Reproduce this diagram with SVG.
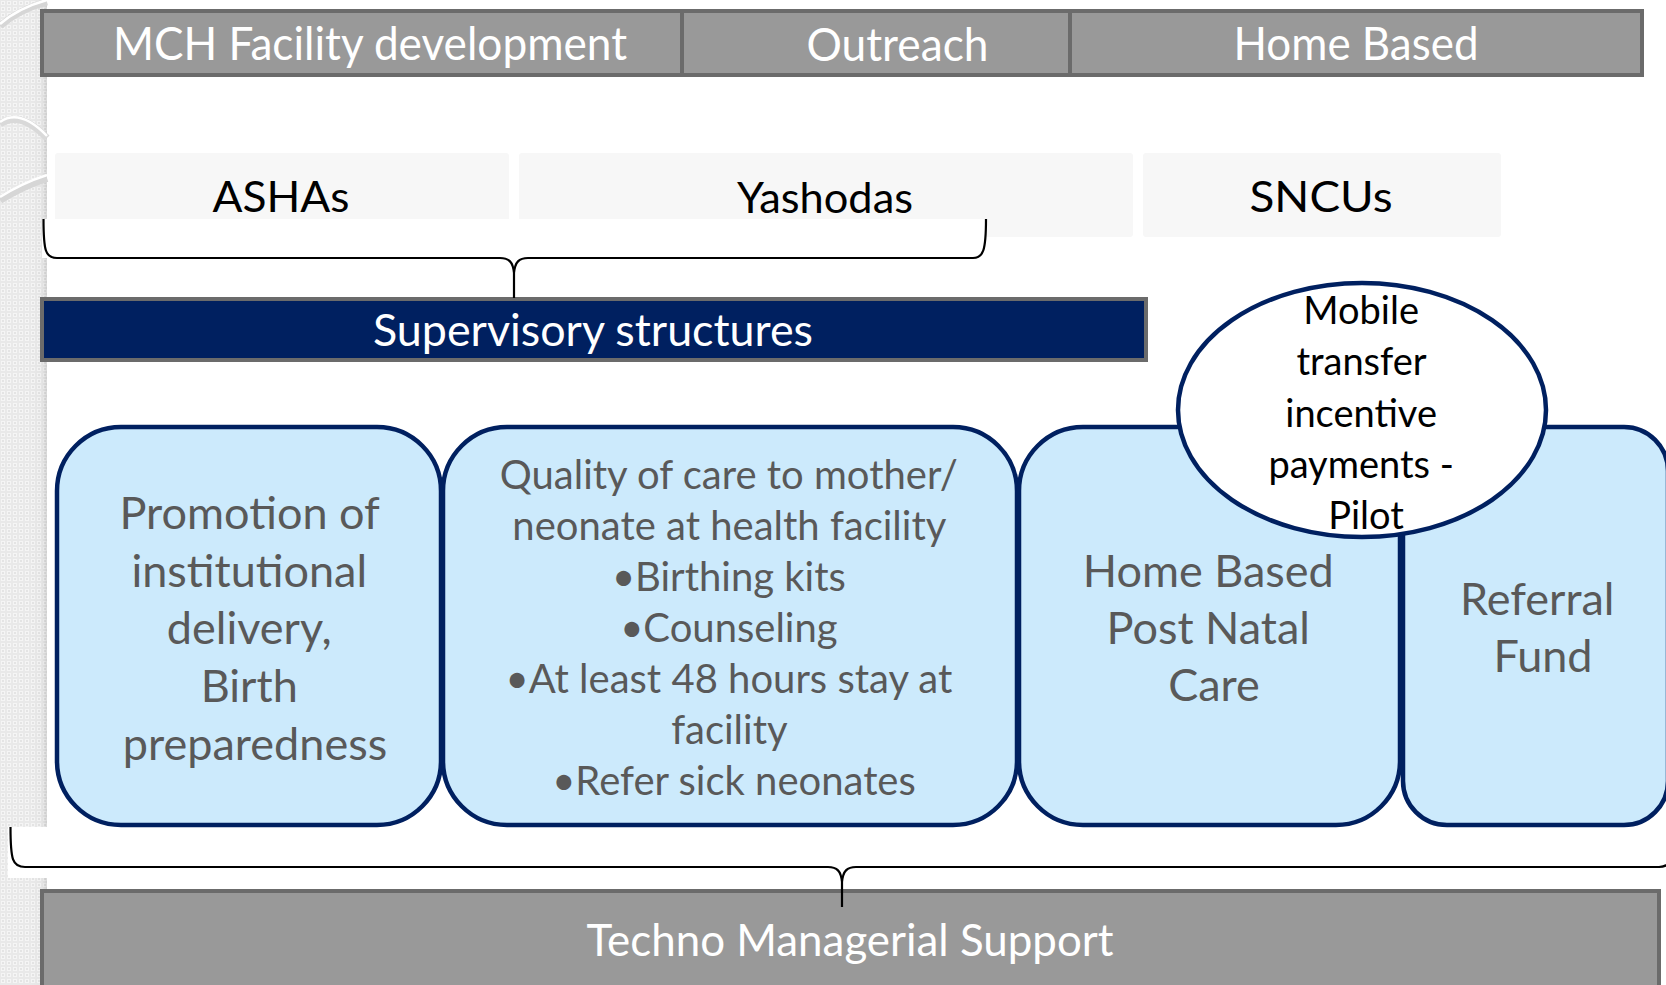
<svg xmlns="http://www.w3.org/2000/svg" width="1666" height="985" viewBox="0 0 1666 985">
  <defs>
    <pattern id="tex" width="6" height="6" patternUnits="userSpaceOnUse">
      <rect width="6" height="6" fill="#e9e9e9"/>
      <rect x="1" y="1" width="4" height="4" fill="#f5f5f5"/>
      <rect x="2" y="2" width="2" height="2" fill="#e4e4e4"/>
    </pattern>
    <linearGradient id="edge" x1="0" y1="0" x2="1" y2="0">
      <stop offset="0" stop-color="#000" stop-opacity="0"/>
      <stop offset="0.7" stop-color="#000" stop-opacity="0.02"/>
      <stop offset="1" stop-color="#000" stop-opacity="0.12"/>
    </linearGradient>
    <style>
      text { font-family: "Lato", "Liberation Sans", sans-serif; text-anchor: middle; }
      .bar { fill: #999999; stroke: #6b6b6b; stroke-width: 4; }
      .bar-label { fill: #ffffff; font-size: 46px; }
      .tier { fill: #f7f7f7; }
      .tier-label { fill: #000000; font-size: 43px; }
      .navy { fill: #002060; stroke: #6b6b6b; stroke-width: 4; }
      .card { fill: #cceafc; stroke: #002060; stroke-width: 4.5; }
      .card-label { fill: #595959; font-size: 45px; }
      .card-small { fill: #595959; font-size: 40px; }
      .bubble { fill: #ffffff; stroke: #002060; stroke-width: 4.5; }
      .bubble-label { fill: #000000; font-size: 38px; }
      .brace { fill: none; stroke: #000000; stroke-width: 2.2; stroke-linejoin: round; }
    </style>
  </defs>

  <!-- page background -->
  <rect width="1666" height="985" fill="#ffffff"/>

  <!-- textured margin strip with sweeping arcs -->
  <g id="margin">
    <rect x="0" y="0" width="47" height="985" fill="url(#tex)"/>
    <rect x="30" y="0" width="17" height="985" fill="url(#edge)"/>
    <path d="M0,26 Q18,10 47,2" fill="none" stroke="#d6d6d6" stroke-width="7"/>
    <path d="M0,24 Q18,8 47,0" fill="none" stroke="#ffffff" stroke-width="2.5"/>
    <path d="M0,124 Q20,110 47,138" fill="none" stroke="#d9d9d9" stroke-width="7"/>
    <path d="M0,122 Q20,108 47,136" fill="none" stroke="#ffffff" stroke-width="2.5"/>
    <path d="M0,200 Q22,186 47,178" fill="none" stroke="#d6d6d6" stroke-width="8"/>
    <path d="M0,197 Q22,183 47,175" fill="none" stroke="#ffffff" stroke-width="2.5"/>
    <rect x="8" y="827" width="40" height="51" fill="#ffffff"/>
  </g>

  <!-- top row of programme areas -->
  <g id="mch-facility">
    <rect class="bar" x="42" y="11" width="640" height="64"/>
    <text class="bar-label" x="370" y="60" textLength="514" lengthAdjust="spacingAndGlyphs">MCH Facility development</text>
  </g>
  <g id="outreach">
    <rect class="bar" x="682" y="11" width="388" height="64"/>
    <text class="bar-label" x="897.5" y="61" textLength="182" lengthAdjust="spacingAndGlyphs">Outreach</text>
  </g>
  <g id="home-based">
    <rect class="bar" x="1070" y="11" width="572" height="64"/>
    <text class="bar-label" x="1356" y="60" textLength="245" lengthAdjust="spacingAndGlyphs">Home Based</text>
  </g>

  <!-- workforce tier -->
  <g id="ashas">
    <rect class="tier" x="55" y="153" width="454" height="84" rx="3"/>
    <text class="tier-label" x="281" y="212" textLength="137" lengthAdjust="spacingAndGlyphs">ASHAs</text>
  </g>
  <g id="yashodas">
    <rect class="tier" x="519" y="153" width="614" height="84" rx="3"/>
    <text class="tier-label" x="825" y="213" textLength="176" lengthAdjust="spacingAndGlyphs">Yashodas</text>
  </g>
  <g id="sncus">
    <rect class="tier" x="1143" y="153" width="358" height="84" rx="3"/>
    <text class="tier-label" x="1321" y="212" textLength="143" lengthAdjust="spacingAndGlyphs">SNCUs</text>
  </g>

  <!-- brace backing panel -->
  <rect x="42" y="219" width="945" height="39" fill="#ffffff"/>

  <g id="supervisory">
    <rect class="navy" x="42" y="299" width="1104" height="61"/>
    <text class="bar-label" x="593" y="346" style="font-size:45px" textLength="440" lengthAdjust="spacingAndGlyphs">Supervisory structures</text>
  </g>

  <!-- intervention cards -->
  <g id="institutional-delivery">
    <rect class="card" x="57" y="427" width="384" height="398" rx="64"/>
    <text class="card-label" x="255">
      <tspan x="255" y="529">Promotion of</tspan>
      <tspan x="255" y="587">institutional</tspan>
      <tspan x="255" y="644">delivery,</tspan>
      <tspan x="255" y="702">Birth</tspan>
      <tspan x="255" y="760">preparedness</tspan>
    </text>
  </g>
  <g id="quality-of-care">
    <rect class="card" x="443" y="427" width="574" height="398" rx="64"/>
    <text class="card-small" x="734">
      <tspan x="734" y="489">Quality of care to mother/</tspan>
      <tspan x="734" y="540">neonate at health facility</tspan>
      <tspan x="734" y="591">•Birthing kits</tspan>
      <tspan x="734" y="642">•Counseling</tspan>
      <tspan x="734" y="693">•At least 48 hours stay at</tspan>
      <tspan x="734" y="744">facility</tspan>
      <tspan x="734" y="795">•Refer sick neonates</tspan>
    </text>
  </g>
  <g id="home-pnc">
    <rect class="card" x="1019" y="427" width="381" height="398" rx="64"/>
    <text class="card-label" x="1214">
      <tspan x="1214" y="587">Home Based</tspan>
      <tspan x="1214" y="644">Post Natal</tspan>
      <tspan x="1214" y="701">Care</tspan>
    </text>
  </g>
  <g id="referral-fund">
    <rect class="card" x="1403" y="427" width="265" height="398" rx="44"/>
    <text class="card-label" x="1543">
      <tspan x="1543" y="615">Referral</tspan>
      <tspan x="1543" y="672">Fund</tspan>
    </text>
  </g>

  <g id="mobile-transfer">
    <ellipse class="bubble" cx="1362" cy="410" rx="184" ry="127"/>
    <text class="bubble-label" x="1366">
      <tspan x="1366" y="324">Mobile</tspan>
      <tspan x="1366" y="375">transfer</tspan>
      <tspan x="1366" y="427">incentive</tspan>
      <tspan x="1366" y="478">payments -</tspan>
      <tspan x="1366" y="529">Pilot</tspan>
    </text>
  </g>

  <g id="techno-managerial">
    <rect class="bar" x="42" y="891" width="1617" height="110"/>
    <text class="bar-label" x="850" y="956" style="font-size:45px" textLength="527" lengthAdjust="spacingAndGlyphs">Techno Managerial Support</text>
  </g>

  <!-- braces -->
  <g id="connectors">
    <path class="brace" d="M43.5,219 C43.5,251 45.5,258 57,258 L500,258 C509,258 513,262 514,273 L514,298 M514,273 C515,262 519,258 528,258 L973,258 C983,258 986,251 986,219"/>
    <path class="brace" d="M10.5,827 C10.5,860 12.5,867 25,867 L828,867 C837,867 841,871 842,882 L842,907 M842,882 C843,871 847,867 856,867 L1659,867 C1671,867 1674,860 1674,827"/>
  </g>
</svg>
